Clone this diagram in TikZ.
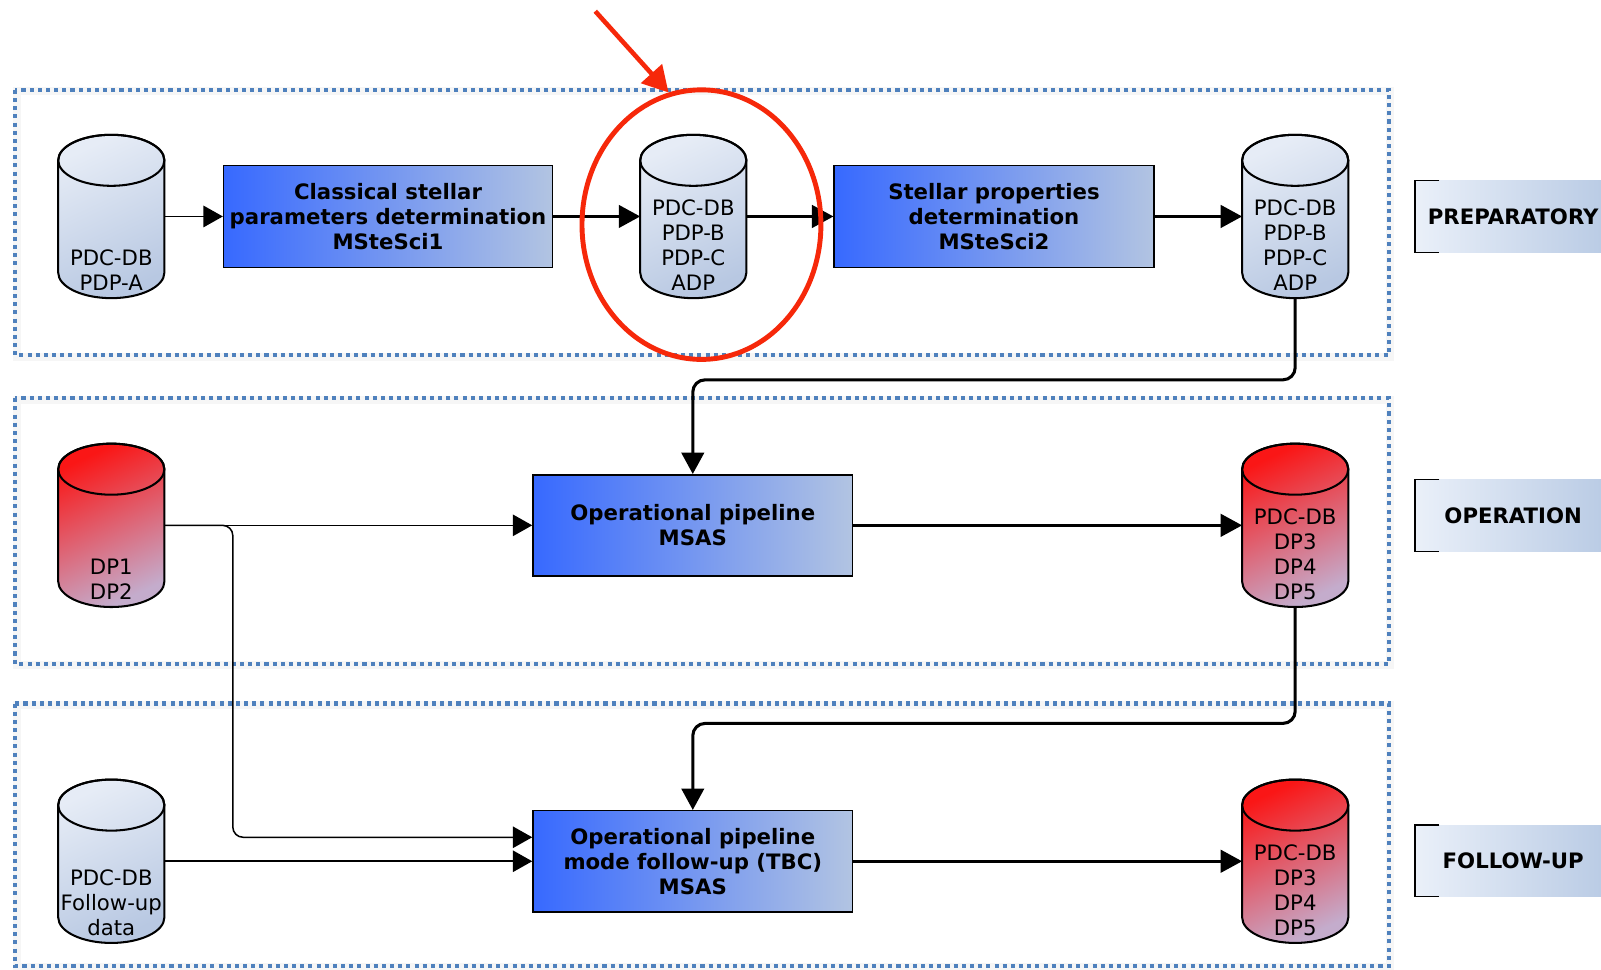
\documentclass[tikz,border=0pt]{standalone}
\usepackage{fontspec}
\setmainfont{DejaVu Sans}
\usetikzlibrary{arrows.meta,calc,shapes.geometric}
\definecolor{framecol}{RGB}{79,129,189}
\definecolor{redc}{RGB}{246,40,10}
\definecolor{boxL}{RGB}{55,105,255}
\definecolor{boxR}{RGB}{178,196,226}
\definecolor{cylTop}{RGB}{230,236,246}
\definecolor{cylBot}{RGB}{184,200,226}
\definecolor{rcylTop}{RGB}{250,22,22}
\definecolor{rcylBot}{RGB}{196,172,204}
\definecolor{labL}{RGB}{234,240,249}
\definecolor{labR}{RGB}{184,202,228}
\tikzset{
  cylbox/.style={minimum width=104pt, minimum height=160pt, inner sep=0pt, outer sep=0pt},
  bluefill/.style={top color=cylTop, bottom color=cylBot, shading angle=25},
  redfill/.style={top color=rcylTop, bottom color=rcylBot, shading angle=25},
  dbtxt/.style={align=center, inner sep=0pt, font=\fontsize{20.8pt}{24.5pt}\selectfont},
  procbox/.style={draw=black, line width=1.5pt, left color=boxL, right color=boxR,
    minimum height=100pt, inner sep=0pt, align=center,
    font=\fontsize{20.8pt}{24.5pt}\selectfont\bfseries},
  labbox/.style={left color=labL, right color=labR, minimum width=192pt, minimum height=70pt,
    inner sep=0pt, font=\fontsize{20.8pt}{24.5pt}\selectfont\bfseries},
  thinarrow/.style={draw=black, line width=1.5pt, -{Triangle[length=19pt,width=21pt]}},
  thickarrow/.style={draw=black, line width=3pt, -{Triangle[length=21pt,width=22pt]}},
  framebox/.style={draw=framecol, line width=4pt, dash pattern=on 4pt off 4pt},
  frameshadow/.style={draw=black, opacity=0.035, line width=8pt},
}
\newcommand\dbcyl[3]{%
  \node[cylbox] (#1) at (#2) {};
  \path[#3, draw=black, line width=2pt]
    ($(#1.north west)+(0,25)$) -- ($(#1.south west)+(0,-25)$)
    arc[start angle=180, end angle=360, x radius=52pt, y radius=25pt]
    -- ($(#1.north east)+(0,25)$)
    arc[start angle=0, end angle=180, x radius=52pt, y radius=25pt] -- cycle;
  \draw[line width=2pt] ($(#1.north)+(0,25)$) ellipse[x radius=52pt, y radius=25pt];
}
\begin{document}
\begin{tikzpicture}[x=1pt, y=-1pt]
\useasboundingbox[fill=white] (0,0) rectangle (1568,950);

% frames
\foreach \ya/\yb in {88/348, 390/650, 689/946} {
  \draw[frameshadow] (16.5,\ya+1.5) rectangle (1361.5,\yb+1.5);
  \draw[framebox] (15,\ya) rectangle (1360,\yb);
}

% cylinders
\dbcyl{cA}{109,212}{bluefill}
\dbcyl{cB}{679,212}{bluefill}
\dbcyl{cC}{1268.5,212}{bluefill}
\dbcyl{cD}{109,514.5}{redfill}
\dbcyl{cE}{1268.5,514.5}{redfill}
\dbcyl{cF}{109,843.5}{bluefill}
\dbcyl{cG}{1268.5,843.5}{redfill}

\node[dbtxt] (tA) at (109,265) {PDC-DB\\PDP-A};
\node[dbtxt] (tB) at (679,240.5) {PDC-DB\\PDP-B\\PDP-C\\ADP};
\node[dbtxt] (tC) at (1268.5,240.5) {PDC-DB\\PDP-B\\PDP-C\\ADP};
\node[dbtxt] (tD) at (109,567) {DP1\\DP2};
\node[dbtxt] (tE) at (1268.5,543) {PDC-DB\\DP3\\DP4\\DP5};
\node[dbtxt] (tF) at (109,884) {PDC-DB\\Follow-up\\data};
\node[dbtxt] (tG) at (1268.5,872) {PDC-DB\\DP3\\DP4\\DP5};

% process boxes
\node[procbox, minimum width=322pt] (b1) at (380,212) {Classical stellar\\parameters determination\\MSteSci1};
\node[procbox, minimum width=313pt] (b2) at (973.5,212) {Stellar properties\\determination\\MSteSci2};
\node[procbox, minimum width=313pt, minimum height=99pt] (b3) at (678.5,514.5) {Operational pipeline\\MSAS};
\node[procbox, minimum width=313pt, minimum height=99pt] (b4) at (678.5,843.5) {Operational pipeline\\mode follow-up (TBC)\\MSAS};

% connectors
\draw[thinarrow] (cA.east) -- (b1.west);
\draw[thickarrow] (b1.east) -- (cB.west);
\draw[thickarrow] (cB.east) -- (b2.west);
\draw[thickarrow] (b2.east) -- (cC.west);
\draw[thickarrow, rounded corners=12pt] (cC.south) -- ++(0,80) -| (b3.north);
\draw[thinarrow] (cD.east) -- (b3.west);
\draw[thinarrow, rounded corners=10pt] (cD.east) -- ++(67,0) |- ($(b4.west)+(0,-23.5)$);
\draw[thickarrow] (b3.east) -- (cE.west);
\draw[thickarrow, rounded corners=12pt] (cE.south) -- ++(0,114) -| (b4.north);
\draw[thinarrow] (cF.east) -- (b4.west);
\draw[thickarrow] (b4.east) -- (cG.west);

% phase labels
\foreach \n/\t/\y in {lP/PREPARATORY/212, lO/OPERATION/505, lF/FOLLOW-UP/843} {
  \node[labbox] (\n) at (1482,\y) {\t};
  \draw[line width=1.5pt] ($(\n.north west)+(24,0)$) -- (\n.north west) -- (\n.south west) -- ($(\n.south west)+(24,0)$);
}

% highlight
\node[draw=redc, line width=4.8pt, ellipse, minimum width=234pt, minimum height=264pt, inner sep=0pt] (hl) at (687,220) {};
\coordinate (rtail) at (583,11);
\draw[draw=redc, line width=4.5pt, -{Triangle[length=25pt,width=27pt]}] (rtail) -- (hl.104);
\end{tikzpicture}
\end{document}
